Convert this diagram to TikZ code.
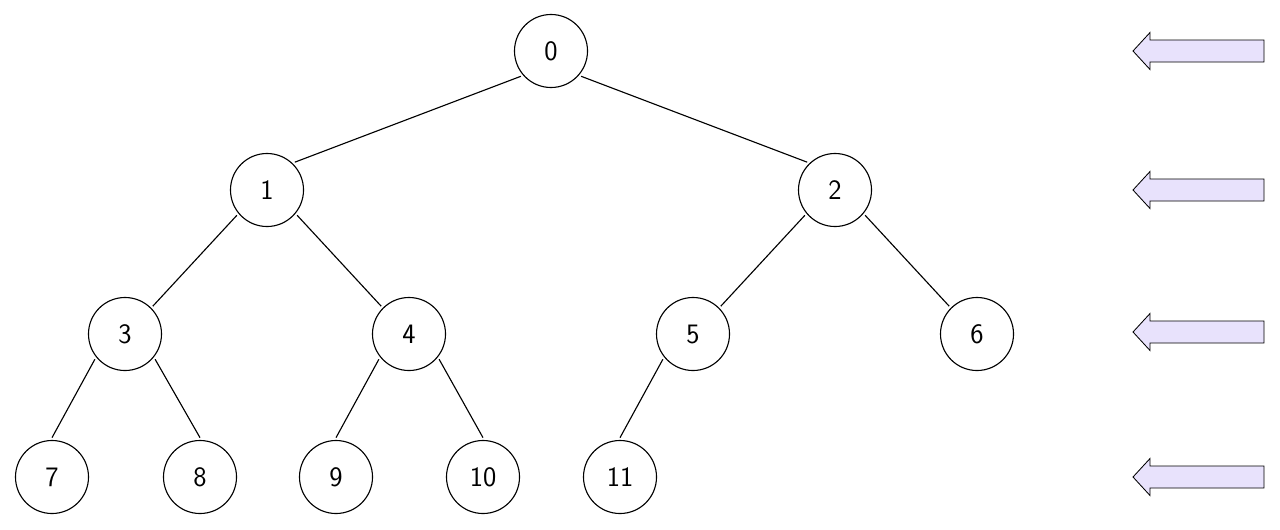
\documentclass[tikz,border=0pt]{standalone}
\definecolor{levelfill}{RGB}{232,226,252}

\begin{document}
\begin{tikzpicture}[x=0.025cm, y=0.025cm, line width=0.8pt,
  heapnode/.style={draw, circle, minimum size=1.825cm, inner sep=0pt, outer sep=2pt,
    font=\sffamily\fontsize{20}{24}\selectfont}]
  % frame: 1280 x 529
  \useasboundingbox (0,0) rectangle (1280,529);
  % heap nodes, level by level
  \node[heapnode] (n0) at (551,478) {0};
  \node[heapnode] (n1) at (267,339) {1};
  \node[heapnode] (n2) at (835,339) {2};
  \node[heapnode] (n3) at (125,195) {3};
  \node[heapnode] (n4) at (409,195) {4};
  \node[heapnode] (n5) at (693,195) {5};
  \node[heapnode] (n6) at (977,195) {6};
  \node[heapnode] (n7) at (52,52) {7};
  \node[heapnode] (n8) at (200,52) {8};
  \node[heapnode] (n9) at (336,52) {9};
  \node[heapnode] (n10) at (483,52) {10};
  \node[heapnode] (n11) at (620,52) {11};
  % parent -- child
  \draw (n0.220)--(n1.45);
  \draw (n0.320)--(n2.135);
  \draw (n1.220)--(n3.45);
  \draw (n1.320)--(n4.135);
  \draw (n2.220)--(n5.45);
  \draw (n2.320)--(n6.135);
  % last level: into the top of the leaf
  \draw (n3.220)--(n7.north);
  \draw (n3.320)--(n8.north);
  \draw (n4.220)--(n9.north);
  \draw (n4.320)--(n10.north);
  \draw (n5.220)--(n11.north);
  % one arrow per level
  \foreach \yy in {478,339,197,52} {
    \draw[fill=levelfill, line width=0.6pt]
      (1133,\yy) -- (1150,\yy+18.5) -- (1150,\yy+11) -- (1264,\yy+11)
      -- (1264,\yy-11) -- (1150,\yy-11) -- (1150,\yy-18.5) -- cycle;
  }
\end{tikzpicture}
\end{document}
